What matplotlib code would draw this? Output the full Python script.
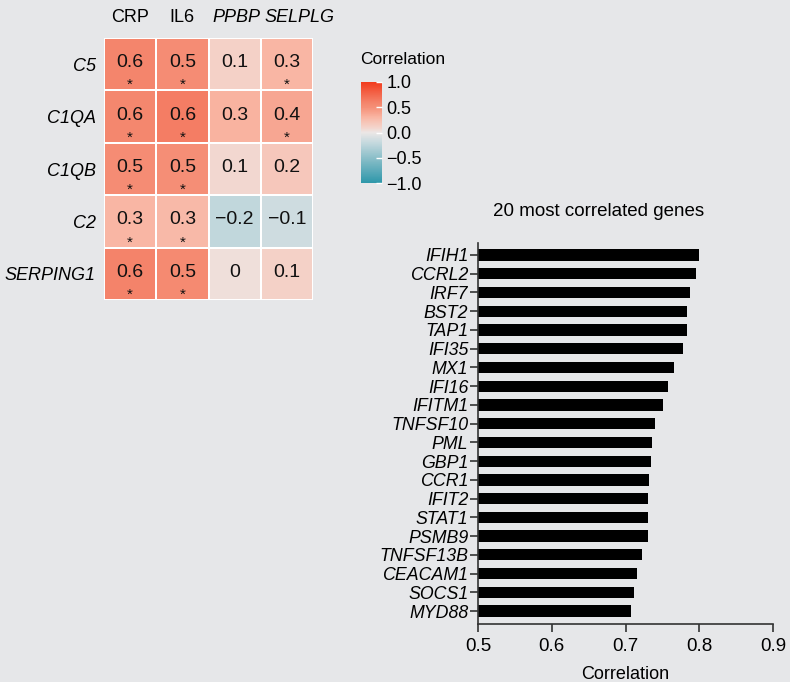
import matplotlib
matplotlib.use("Agg")
import matplotlib.pyplot as plt
import numpy as np
from matplotlib.colors import LinearSegmentedColormap

plt.rcParams["font.family"] = ["Liberation Sans", "DejaVu Sans"]

BG = "#e6e7e9"

# heatmap data
rows = ["C5", "C1QA", "C1QB", "C2", "SERPING1"]
cols = ["CRP", "IL6", "PPBP", "SELPLG"]
col_italic = [False, False, True, True]
corr = np.array([
    [0.58, 0.52, 0.12, 0.30],
    [0.57, 0.63, 0.32, 0.38],
    [0.52, 0.50, 0.08, 0.18],
    [0.30, 0.28, -0.22, -0.15],
    [0.60, 0.54, 0.04, 0.12],
])
signif = np.array([
    [1, 1, 0, 1],
    [1, 1, 0, 1],
    [1, 1, 0, 0],
    [1, 1, 0, 0],
    [1, 1, 0, 0],
])

# bar chart data
genes = ["IFIH1", "CCRL2", "IRF7", "BST2", "TAP1", "IFI35", "MX1", "IFI16",
         "IFITM1", "TNFSF10", "PML", "GBP1", "CCR1", "IFIT2", "STAT1",
         "PSMB9", "TNFSF13B", "CEACAM1", "SOCS1", "MYD88"]
gene_corr = [0.800, 0.796, 0.788, 0.784, 0.784, 0.778, 0.766, 0.758,
             0.751, 0.740, 0.736, 0.734, 0.732, 0.731, 0.731,
             0.731, 0.722, 0.715, 0.712, 0.707]

# gradient roughly like ggplot's gradient2 (interpolated in Lab)
cmap = LinearSegmentedColormap.from_list("corr", [
    (0.0, "#2e97aa"), (0.25, "#8cbfc9"), (0.4, "#c5d9de"),
    (0.5, "#ece7e6"), (0.55, "#f3d4cb"), (0.65, "#f9b6a4"),
    (0.75, "#f58f77"), (0.8, "#f4836a"), (1.0, "#f23c1e")])

fig = plt.figure(figsize=(7.9, 6.82), dpi=100, facecolor=BG)

# ---- heatmap ----
ax = fig.add_axes([104 / 790, 1 - 300 / 682, 209 / 790, 262 / 682])
ax.set_facecolor(BG)
mesh = ax.pcolormesh(corr, cmap=cmap, vmin=-1, vmax=1,
                     edgecolors="white", linewidth=1.2)
ax.set_xlim(0, len(cols))
ax.set_ylim(len(rows), 0)
for i in range(len(rows)):
    for j in range(len(cols)):
        v = corr[i, j]
        lab = f"{v:.1f}".replace("-", "\u2212")
        if abs(v) < 0.05:
            lab = "0"
        ax.text(j + 0.5, i + 0.47, lab, ha="center", va="center",
                fontsize=14, color="#111111")
        if signif[i, j]:
            ax.text(j + 0.5, i + 0.9, "*", ha="center", va="center",
                    fontsize=11, color="#111111")
# column labels (SELPLG sits a bit to the right, as in the original)
col_shift = [0, 0, 1, 9]
for j, (c, it, dx) in enumerate(zip(cols, col_italic, col_shift)):
    ax.annotate(c, (j + 0.5, 0), xytext=(dx, 9), textcoords="offset points",
                ha="center", va="bottom", fontsize=13,
                style="italic" if it else "normal")
ax.set_xticks([])
ax.set_yticks(np.arange(len(rows)) + 0.5)
ax.set_yticklabels(rows, fontsize=13, style="italic")
ax.tick_params(length=0, pad=6)
for s in ax.spines.values():
    s.set_visible(False)

# ---- colorbar ----
cax = fig.add_axes([361 / 790, 1 - 183 / 682, 21 / 790, 101 / 682])
cb = fig.colorbar(mesh, cax=cax, ticks=[-1, -0.5, 0, 0.5, 1])
cb.outline.set_visible(False)
cb.ax.set_yticklabels(["\u22121.0", "\u22120.5", "0.0", "0.5", "1.0"],
                      fontsize=13)
cb.ax.tick_params(direction="in", color="white", length=4, width=1, pad=3)
fig.text(360 / 790, 1 - 59 / 682, "Correlation", fontsize=12.5,
         ha="left", va="center")

# ---- bar chart ----
bx = fig.add_axes([478 / 790, 1 - 624 / 682, 295 / 790, 381 / 682])
bx.set_facecolor(BG)
ypos = np.arange(len(genes))[::-1]
bx.barh(ypos, np.array(gene_corr) - 0.5, left=0.5, height=0.6,
        color="black")
bx.set_xlim(0.5, 0.9)
bx.set_ylim(-0.69, len(genes) - 1 + 0.64)
bx.set_yticks(ypos)
bx.set_yticklabels(genes, fontsize=12.8, style="italic")
bx.set_xticks([0.5, 0.6, 0.7, 0.8, 0.9])
bx.set_xticklabels(["0.5", "0.6", "0.7", "0.8", "0.9"], fontsize=13.5)
bx.tick_params(axis="both", direction="out", color="#333333", width=1.2)
bx.tick_params(axis="x", length=6, pad=4)
bx.tick_params(axis="y", length=6, pad=1)
for s in ("top", "right"):
    bx.spines[s].set_visible(False)
for s in ("left", "bottom"):
    bx.spines[s].set_color("#333333")
    bx.spines[s].set_linewidth(1.2)
bx.set_xlabel("Correlation", fontsize=13, labelpad=8)
fig.text(599 / 790, 1 - 212 / 682, "20 most correlated genes",
         fontsize=13.5, ha="center", va="center")

fig.savefig("out.png", dpi=100, facecolor=BG)
